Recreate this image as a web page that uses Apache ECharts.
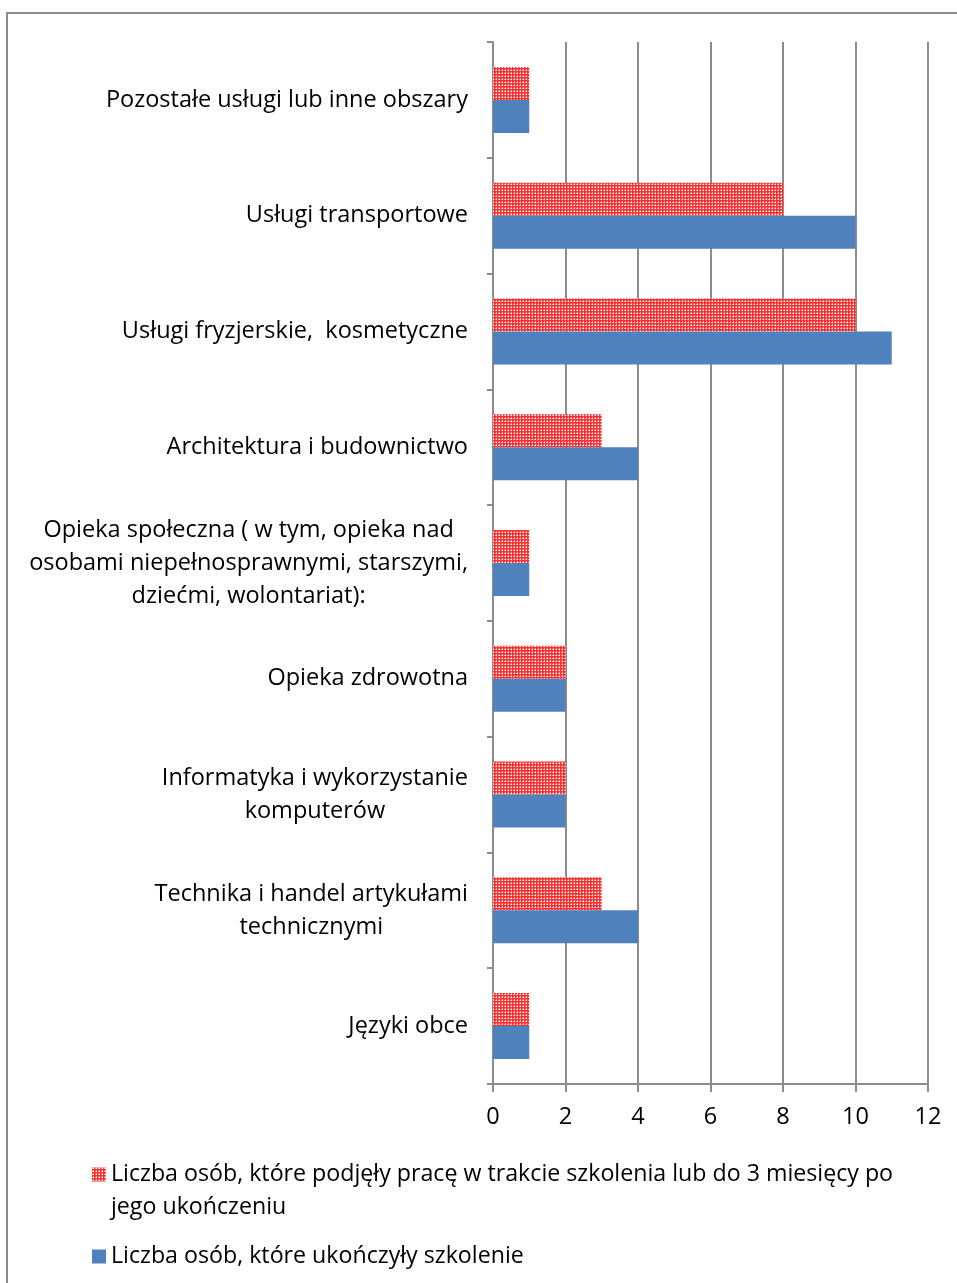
<!DOCTYPE html>
<html>
<head>
<meta charset="utf-8">
<script src="https://cdn.jsdelivr.net/npm/echarts@6/dist/echarts.min.js"></script>
<style>
  html, body { margin: 0; padding: 0; background: #fff; }
  #main { width: 957px; height: 1283px; }
  #frame { position: absolute; left: 6px; top: 12px; width: 960px; height: 1290px;
           border-left: 2px solid #8c8c8c; border-top: 2px solid #8c8c8c; pointer-events: none; }
</style>
</head>
<body>
<div id="main"></div>
<div id="frame"></div>
<script>
// kategorie od dołu do góry (oś kategorii w ECharts rośnie w górę)
const categories = [
  'Języki obce',
  'Technika i handel artykułami\ntechnicznymi',
  'Informatyka i wykorzystanie\nkomputerów',
  'Opieka zdrowotna',
  'Opieka społeczna ( w tym, opieka nad\nosobami niepełnosprawnymi, starszymi,\ndziećmi, wolontariat):',
  'Architektura i budownictwo',
  'Usługi fryzjerskie,  kosmetyczne',
  'Usługi transportowe',
  'Pozostałe usługi lub inne obszary'
];
const nameWorked = 'Liczba osób, które podjęły pracę w trakcie szkolenia lub do 3 miesięcy po jego ukończeniu';
const nameFinished = 'Liczba osób, które ukończyły szkolenie';
const worked = [1, 3, 2, 2, 1, 3, 10, 8, 1];
const finished = [1, 4, 2, 2, 1, 4, 11, 10, 1];
const xTicks = [0, 12, 2];  // min, max, interval

const FONT = 'Open Sans';
const FS = 23.5;
const LEGEND_FS = 23.2;

// wzór w kratkę dla czerwonych słupków
function makePattern() {
  const c = document.createElement('canvas');
  c.width = 3; c.height = 3;
  const g = c.getContext('2d');
  g.fillStyle = '#ff3030';
  g.fillRect(0, 0, 3, 3);
  g.fillStyle = '#ffa8a8';
  g.fillRect(1, 0, 1, 1);
  g.fillRect(0, 1, 1, 1);
  g.fillStyle = '#ffffff';
  g.fillRect(1, 1, 1, 1);
  return c;
}
const redFill = { image: makePattern(), repeat: 'repeat' };

let myChart = echarts.init(document.getElementById('main'));
myChart.setOption({
  animation: false,
  grid: { left: 493, right: 29, top: 42, bottom: 199, containLabel: false },
  legend: [
    {
      data: [nameWorked],
      orient: 'vertical',
      left: 92, top: 1158, padding: 0,
      itemWidth: 14, itemHeight: 66,
      icon: 'path://M0 0L0.01 0L0 0Z M0 9.5H14V23.5H0Z M0 66L0.01 66L0 66Z',
      formatter: function (n) {
        return n.replace('po jego', 'po\njego');
      },
      textStyle: { fontFamily: FONT, fontSize: LEGEND_FS, color: '#000', lineHeight: 33 }
    },
    {
      data: [nameFinished],
      orient: 'vertical',
      left: 92, top: 1240, padding: 0,
      itemWidth: 14, itemHeight: 14,
      icon: 'rect',
      textStyle: { fontFamily: FONT, fontSize: LEGEND_FS, color: '#000', lineHeight: 33 }
    }
  ],
  xAxis: {
    type: 'value',
    min: xTicks[0], max: xTicks[1], interval: xTicks[2],
    axisLine: { show: true, lineStyle: { color: '#8c8c8c', width: 2 } },
    axisTick: { show: true, length: 8, lineStyle: { color: '#8c8c8c', width: 2 } },
    splitLine: { show: true, lineStyle: { color: '#8c8c8c', width: 2 } },
    axisLabel: { margin: 21, fontFamily: FONT, fontSize: FS, color: '#000' }
  },
  yAxis: {
    type: 'category',
    data: categories,
    axisLine: { show: true, lineStyle: { color: '#8c8c8c', width: 2 } },
    axisTick: { show: true, length: 6, lineStyle: { color: '#8c8c8c', width: 2 } },
    axisLabel: {
      margin: 25,
      fontFamily: FONT, fontSize: FS, color: '#000', lineHeight: 33,
      formatter: function (v) {
        if (v.indexOf('\n') < 0) return v;
        return v.split('\n').map(function (l) { return '{c|' + l + '}'; }).join('\n');
      },
      rich: {
        c: { align: 'center', fontFamily: FONT, fontSize: FS, color: '#000', lineHeight: 33 }
      }
    }
  },
  series: [
    {
      name: nameWorked,
      type: 'bar',
      data: worked,
      barGap: '0%',
      barCategoryGap: '43%',
      itemStyle: { color: redFill }
    },
    {
      name: nameFinished,
      type: 'bar',
      data: finished,
      barGap: '0%',
      barCategoryGap: '43%',
      itemStyle: { color: '#4f81bd' }
    }
  ]
});
</script>
</body>
</html>
